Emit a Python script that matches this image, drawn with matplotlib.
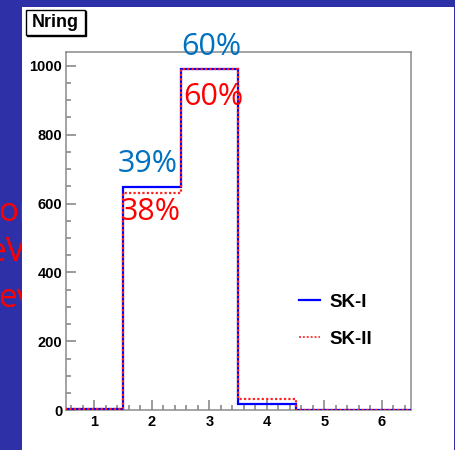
import matplotlib
matplotlib.use("Agg")
import matplotlib.pyplot as plt
from matplotlib.lines import Line2D
from matplotlib.patches import Rectangle
from matplotlib.ticker import MultipleLocator
import numpy as np

# number of rings per event, SK-I vs SK-II
edges = np.arange(0.5, 7.0, 1.0)
sk1_counts = [3, 648, 992, 17, 1, 0]
sk2_counts = [3, 630, 992, 34, 1, 0]
series_names = ["SK-I", "SK-II"]

W, H = 456, 450
fig = plt.figure(figsize=(W / 100, H / 100), dpi=100)
fig.patch.set_facecolor("#2d30a6")


def px(x, y):
    # pixel position (from top-left) -> figure fraction
    return x / W, 1 - y / H


# slide text peeking out behind the plot pad
for txt, (x, y) in [("or", (-2, 221)), ("eV", (-13, 261)), ("ev", (-2, 307))]:
    fig.text(*px(x, y), txt, color="red", fontsize=24, family="Open Sans",
             va="baseline", ha="left", zorder=-3)

# white canvas
x0, y0 = px(22, 450)
x1, y1 = px(454, 7)
fig.add_artist(Rectangle((x0, y0), x1 - x0, y1 - y0, transform=fig.transFigure,
                         facecolor="white", edgecolor="none", zorder=-2))

ax = fig.add_axes([65.7 / W, 1 - 410.3 / H, (410.7 - 65.7) / W, (410.3 - 52) / H])
ax.set_facecolor("white")

ax.stairs(sk1_counts, edges, color="#0000ff", lw=1.6, zorder=3)
ax.stairs(sk2_counts, edges, color="#ff2020", lw=1.6, ls=(0, (1, 1)), zorder=4)

ax.set_xlim(0.5, 6.5)
ax.set_ylim(0, 1040)
ax.xaxis.set_major_locator(MultipleLocator(1))
ax.xaxis.set_minor_locator(MultipleLocator(0.2))
ax.yaxis.set_major_locator(MultipleLocator(200))
ax.yaxis.set_minor_locator(MultipleLocator(50))

for s in ax.spines.values():
    s.set_color("#8a8a8a")
    s.set_linewidth(1.1)
ax.tick_params(which="both", direction="in", color="#8a8a8a", width=1.2,
               top=False, right=False)
ax.tick_params(which="major", length=7.5)
ax.tick_params(which="minor", length=3.6)
ax.tick_params(axis="y", pad=2.5)
ax.tick_params(axis="x", pad=3.5)
for lab in ax.get_xticklabels() + ax.get_yticklabels():
    lab.set_fontweight("bold")
    lab.set_fontsize(10.5)
    lab.set_family("Liberation Sans")

# percentage of events per ring count
sk1_frac = 100 * np.array(sk1_counts) / np.sum(sk1_counts)
sk2_frac = 100 * np.array(sk2_counts) / np.sum(sk2_counts)
pct_style = dict(fontsize=22, family="Open Sans", ha="center", va="baseline",
                 clip_on=False, zorder=6)
ax.text(3.04, 1031, f"{sk1_frac[2]:.0f}%", color="#0070c0", **pct_style)
ax.text(3.07, 886, f"{sk2_frac[2]:.0f}%", color="#ff0000", **pct_style)
ax.text(1.92, 692, f"{sk1_frac[1]:.0f}%", color="#0070c0", **pct_style)
ax.text(1.98, 553, f"{sk2_frac[1]:.0f}%", color="#ff0000", **pct_style)

handles = [Line2D([], [], color="#0000ff", lw=1.6),
           Line2D([], [], color="#ff4040", lw=1.4, ls=(0, (1, 1)))]
leg = ax.legend(handles, series_names, loc="upper left",
                bbox_to_anchor=px(292, 286), bbox_transform=fig.transFigure,
                frameon=False, handlelength=1.1, handletextpad=0.5,
                labelspacing=1.07, borderaxespad=0,
                prop={"family": "Liberation Sans", "weight": "bold", "size": 13.5})

# histogram title box
bx0, by0 = px(25.7, 35)
bx1, by1 = px(85, 9.5)
fig.add_artist(Rectangle((bx0 + 1.5 / W, by0 - 1.5 / H), bx1 - bx0, by1 - by0,
                         transform=fig.transFigure, facecolor="black",
                         edgecolor="black", lw=1, zorder=5))
fig.add_artist(Rectangle((bx0, by0), bx1 - bx0, by1 - by0,
                         transform=fig.transFigure, facecolor="white",
                         edgecolor="black", lw=1, zorder=6))
fig.text(*px(55.3, 22.5), "Nring", fontsize=13, fontweight="bold",
         family="Liberation Sans", ha="center", va="center", zorder=7)

fig.savefig("out.png", dpi=100, facecolor=fig.get_facecolor())
